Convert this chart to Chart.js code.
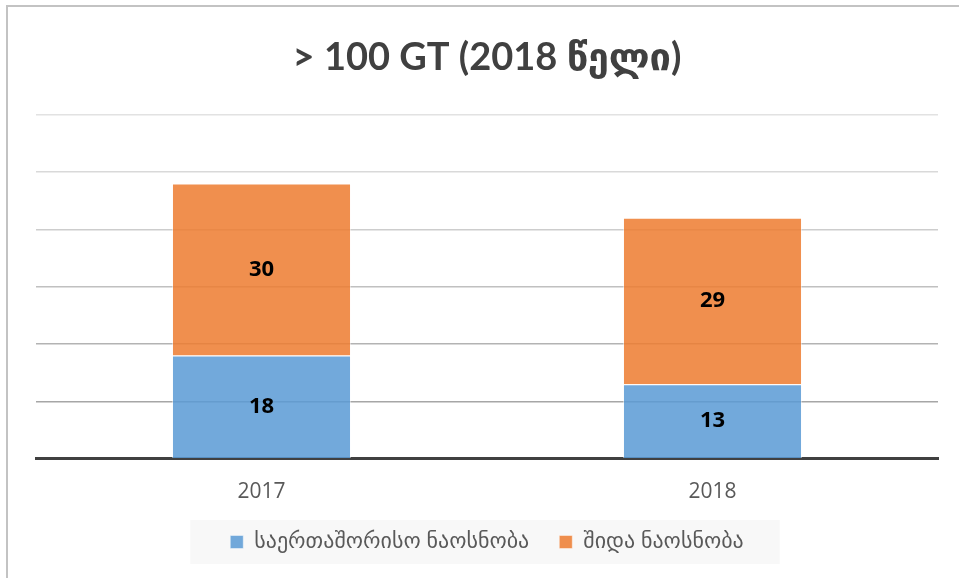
<!DOCTYPE html>
<html>
<head>
<meta charset="utf-8">
<script src="https://cdn.jsdelivr.net/npm/chart.js@4.4.0/dist/chart.umd.min.js"></script>
<style>
  html, body { margin: 0; padding: 0; background: #fff; overflow: hidden; }
  #frame { position: absolute; left: 6px; top: 5px; width: 1000px; height: 1000px; border: 2px solid #c3c3c3; }
  #wrap { position: absolute; left: 0; top: 0; width: 959px; height: 578px; }
</style>
</head>
<body>
<div id="frame"></div>
<div id="wrap"><canvas id="chart" width="959" height="578"></canvas></div>
<script>
// chart data
const years = ['2017', '2018'];
const seriesNames = ['საერთაშორისო ნაოსნობა', 'შიდა ნაოსნობა'];
const internationalValues = [18, 13];
const domesticValues = [30, 29];
const yTicks = [0, 10, 20, 30, 40, 50, 60];

const fontFamily = "'Open Sans', 'DejaVu Sans', sans-serif";
const titleFamily = "Lato, 'DejaVu Sans', sans-serif";

// gridlines get lighter towards the top
const gridColors = ['#a0a0a0', '#a6a6a6', '#b3b3b3', '#c0c0c0', '#cdcdcd', '#d9d9d9', '#e2e2e2'];

// write the value in the middle of each bar segment
const barLabels = {
  id: 'barLabels',
  afterDatasetsDraw(chart) {
    const ctx = chart.ctx;
    ctx.save();
    ctx.font = 'bold 22px ' + fontFamily;
    ctx.fillStyle = '#000';
    ctx.textAlign = 'center';
    ctx.textBaseline = 'middle';
    chart.data.datasets.forEach((ds, i) => {
      const meta = chart.getDatasetMeta(i);
      meta.data.forEach((bar, j) => {
        const p = bar.getProps(['x', 'y', 'base'], true);
        ctx.fillText(String(ds.data[j]), p.x, (p.y + p.base) / 2);
      });
    });
    ctx.restore();
  }
};

// light grey panel behind the legend
const legendPanel = {
  id: 'legendPanel',
  beforeDraw(chart) {
    const lg = chart.legend;
    if (!lg || !lg.legendHitBoxes || !lg.legendHitBoxes.length) return;
    const boxes = lg.legendHitBoxes;
    const left = Math.min(...boxes.map(b => b.left)) - 40;
    const right = Math.max(...boxes.map(b => b.left + b.width)) + 36;
    const mid = boxes[0].top + boxes[0].height / 2;
    const ctx = chart.ctx;
    ctx.save();
    ctx.fillStyle = '#f8f8f8';
    ctx.fillRect(left, mid - 22, right - left, 44);
    ctx.restore();
  }
};

const ctx = document.getElementById('chart').getContext('2d');
new Chart(ctx, {
  type: 'bar',
  data: {
    labels: years,
    datasets: [
      {
        label: seriesNames[0],
        data: internationalValues,
        backgroundColor: 'rgba(91, 155, 213, 0.86)',
        borderColor: 'rgba(255, 255, 255, 0.45)',
        borderWidth: 1,
        categoryPercentage: 1,
        barPercentage: 0.397
      },
      {
        label: seriesNames[1],
        data: domesticValues,
        backgroundColor: 'rgba(237, 125, 49, 0.86)',
        borderColor: 'rgba(255, 255, 255, 0.45)',
        borderWidth: 1,
        categoryPercentage: 1,
        barPercentage: 0.397
      }
    ]
  },
  options: {
    responsive: false,
    animation: false,
    devicePixelRatio: 1,
    layout: { padding: { left: 36, right: 21, top: 0, bottom: 15 } },
    scales: {
      x: {
        stacked: true,
        grid: { display: false },
        border: { display: true, color: '#404040', width: 3 },
        ticks: { color: '#595959', font: { family: fontFamily, size: 21 }, padding: 13 },
        // let the legend sit closer to the year labels
        afterFit(axis) { axis.height -= 17; }
      },
      y: {
        stacked: true,
        min: 0,
        max: 60,
        afterBuildTicks(axis) { axis.ticks = yTicks.map(v => ({ value: v })); },
        ticks: { display: false },
        border: { display: false },
        grid: {
          drawTicks: false,
          lineWidth: 1.5,
          color: c => gridColors[c.index] || '#d9d9d9'
        }
      }
    },
    plugins: {
      title: {
        display: true,
        text: '> 100 GT (2018 წელი)',
        color: '#404040',
        font: { family: titleFamily, size: 38, weight: 'bold' },
        padding: { top: 35, bottom: 34 }
      },
      legend: {
        position: 'bottom',
        labels: {
          color: '#595959',
          font: { family: fontFamily, size: 22 },
          boxWidth: 13,
          boxHeight: 13,
          padding: 30
        }
      },
      tooltip: { enabled: false }
    }
  },
  plugins: [legendPanel, barLabels]
});
</script>
</body>
</html>
